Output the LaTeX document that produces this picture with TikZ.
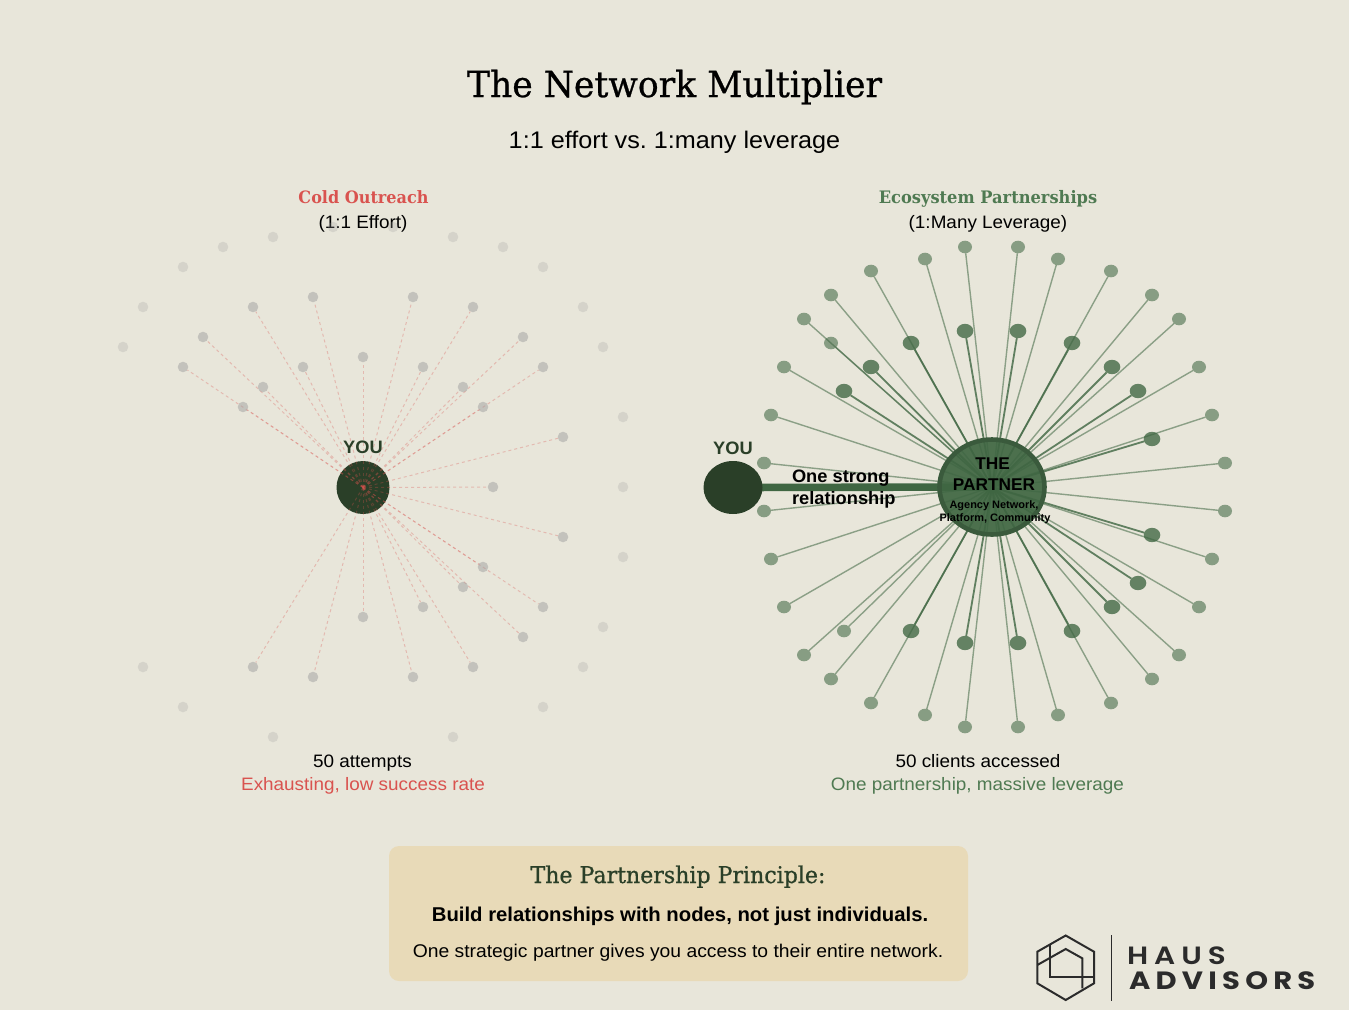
\documentclass[tikz,border=0pt]{standalone}
\usepackage{fontspec}
\usetikzlibrary{shapes.geometric}
\setmainfont{Liberation Sans}
\newfontfamily\inter[FakeStretch=1.05]{Liberation Sans}
\newfontfamily\interb[FakeStretch=1.015]{Liberation Sans Bold}
\newfontfamily\merri[FakeStretch=0.96,FakeBold=0.7]{DejaVu Serif}
\newfontfamily\merrib[FakeStretch=0.945]{DejaVu Serif Bold}
\newfontfamily\logoA[FakeStretch=1.18,LetterSpace=24]{Poppins SemiBold}
\newfontfamily\logoB[FakeStretch=1.16,LetterSpace=21]{Poppins Bold}
\definecolor{bgc}{HTML}{E8E6DA}
\definecolor{boxc}{HTML}{E8DAB8}
\definecolor{dgreen}{HTML}{2A3F28}
\definecolor{mgreen}{HTML}{3F6642}
\definecolor{ring}{HTML}{3A5A3C}
\definecolor{tgreen}{HTML}{4F7A52}
\definecolor{redc}{HTML}{D9534F}
\definecolor{greyn}{HTML}{A0A0A0}
\definecolor{logoc}{HTML}{2B2B2B}
\pgfdeclarelayer{under}
\pgfsetlayers{under,main}
\tikzset{
  txt/.style={inner sep=0,outer sep=0,anchor=base,text=black},
  coldfar/.style={circle,inner sep=0,outer sep=0,minimum size=10.6pt,fill=greyn,fill opacity=.26},
  coldnear/.style={circle,inner sep=0,outer sep=0,minimum size=10.6pt,fill=greyn,fill opacity=.5},
  coldline/.style={draw=redc,line width=1pt,dash pattern=on 3pt off 3pt,draw opacity=.3},
  lightn/.style={ellipse,inner sep=0,outer sep=0,minimum width=14pt,minimum height=12.6pt,fill=mgreen,fill opacity=.57},
  darkn/.style={ellipse,inner sep=0,outer sep=0,minimum width=16.6pt,minimum height=14.4pt,fill=mgreen,fill opacity=.78},
  lightl/.style={draw=mgreen,line width=1.4pt,draw opacity=.55},
  darkl/.style={draw=mgreen,line width=1.8pt,draw opacity=.8},
  logol/.style={draw=logoc,line width=2pt,line join=miter}
}
\begin{document}
\frenchspacing
\begin{tikzpicture}[x=1pt,y=-1pt]
\useasboundingbox (0,0) rectangle (1349,1010);
\begin{pgfonlayer}{under}
  \fill[bgc] (0,0) rectangle (1349,1010);
  \node[circle,inner sep=0,outer sep=0,minimum size=53pt,fill=dgreen] (youL) at (363,487.5) {};
\end{pgfonlayer}

% titles
\node[txt] (title) at (674.5,97) {\merri\fontsize{36}{36}\selectfont The Network Multiplier};
\node[txt] (sub) at (674.5,148) {\inter\fontsize{24}{24}\selectfont 1:1 effort vs. 1:many leverage};
\node[txt,text=redc] (coldT) at (363.5,203) {\merrib\fontsize{17}{18}\selectfont Cold Outreach};
\node[txt] (coldS) at (363,228) {\inter\fontsize{18}{18}\selectfont (1:1 Effort)};
\node[txt,text=tgreen] (ecoT) at (988,203) {\merrib\fontsize{17.2}{18}\selectfont Ecosystem Partnerships};
\node[txt] (ecoS) at (988,228) {\inter\fontsize{18}{18}\selectfont (1:Many Leverage)};
\node[txt] (coldA) at (362.5,767) {\inter\fontsize{18}{18}\selectfont 50 attempts};
\node[txt,text=redc] (coldB) at (363,790) {\inter\fontsize{18}{18}\selectfont Exhausting, low success rate};
\node[txt] (ecoA) at (978,767) {\inter\fontsize{18}{18}\selectfont 50 clients accessed};
\node[txt,text=tgreen] (ecoB) at (977.5,790) {\inter\fontsize{18}{18}\selectfont One partnership, massive leverage};

% left network
\node[txt,text=dgreen] (youLt) at (363,453) {\interb\fontsize{18}{18}\selectfont YOU};
\foreach \n/\x/\y in {1/183/267,2/223/247,3/273/237,4/333/227,5/393/227,6/453/237,7/503/247,8/543/267,9/583/307,10/143/307,11/123/347,12/603/347,13/623/417,14/623/487,15/623/557,16/603/627,17/583/667,18/543/707,19/453/737,20/273/737,21/183/707,22/143/667}
  \node[coldfar] (f\n) at (\x,\y) {};
\foreach \n/\x/\y in {1/243/407,2/183/367,3/203/337,4/263/387,5/253/307,6/303/367,7/313/297,8/363/357,9/413/297,10/423/367,11/473/307,12/463/387,13/523/337,14/483/407,15/543/367,16/563/437,17/493/487,18/563/537,19/483/567,20/543/607,21/463/587,22/523/637,23/423/607,24/473/667,25/413/677,26/363/617,27/313/677,28/253/667}{
  \node[coldnear] (n\n) at (\x,\y) {};
  \begin{pgfonlayer}{under}
    \draw[coldline] (youL.center) -- (n\n);
  \end{pgfonlayer}
}

% right network
\node[ellipse,inner sep=0,outer sep=0,minimum width=105pt,minimum height=95pt,fill=mgreen,fill opacity=.92,draw=ring,line width=4.6pt] (partner) at (992,487) {};
\foreach \n/\x/\y in {1/965/247,2/1018/247,3/925/259,4/1058/259,5/871/271,6/1111/271,7/831/295,8/1152/295,9/804/319,10/1179/319,11/831/343,12/784/367,13/1199/367,14/771/415,15/1212/415,16/764/463,17/1225/463,18/764/511,19/1225/511,20/771/559,21/1212/559,22/784/607,23/1199/607,24/844/631,25/804/655,26/1179/655,27/831/679,28/1152/679,29/871/703,30/1111/703,31/925/715,32/1058/715,33/965/727,34/1018/727}{
  \node[lightn] (l\n) at (\x,\y) {};
  \begin{pgfonlayer}{under}
    \draw[lightl] (partner.center) -- (l\n);
  \end{pgfonlayer}
}
\foreach \n/\x/\y in {1/911/343,2/965/331,3/1018/331,4/1072/343,5/871/367,6/1112/367,7/844/391,8/1138/391,9/1152/439,10/1152/535,11/1138/583,12/1112/607,13/911/631,14/965/643,15/1018/643,16/1072/631}{
  \node[darkn] (d\n) at (\x,\y) {};
  \begin{pgfonlayer}{under}
    \draw[darkl] (partner.center) -- (d\n);
  \end{pgfonlayer}
}
\node[ellipse,inner sep=0,outer sep=0,minimum width=59pt,minimum height=53pt,fill=dgreen] (youR) at (733,487.5) {};
\begin{pgfonlayer}{under}
  \draw[draw=mgreen,line width=7.6pt] (youR.center) -- (partner.center);
\end{pgfonlayer}
\node[txt,text=dgreen] (youRt) at (733,454) {\interb\fontsize{18}{18}\selectfont YOU};
\node[txt,anchor=base west] (rel1) at (792,482) {\interb\fontsize{18}{18}\selectfont One strong};
\node[txt,anchor=base west] (rel2) at (792,504) {\interb\fontsize{18}{18}\selectfont relationship};
\node[txt] (p1) at (992.5,469) {\interb\fontsize{17}{17}\selectfont THE};
\node[txt] (p2) at (994,490) {\interb\fontsize{17}{17}\selectfont PARTNER};
\node[txt] (p3) at (994,508.5) {\interb\fontsize{10.8}{10.8}\selectfont Agency Network,};
\node[txt] (p4) at (995,521) {\interb\fontsize{10.8}{10.8}\selectfont Platform, Community};

% principle box
\draw[fill=boxc,draw=none,rounded corners=10pt] (389,846) rectangle (968,981);
\node[txt,text=dgreen] (b1) at (678,883) {\merri\fontsize{23}{24}\selectfont The Partnership Principle:};
\node[txt] (b2) at (680,921) {\interb\fontsize{20}{20}\selectfont Build relationships with nodes, not just individuals.};
\node[txt] (b3) at (678,957) {\inter\fontsize{18.4}{18}\selectfont One strategic partner gives you access to their entire network.};

% logo
\draw[logol] (1065.7,935.5) -- (1094,951.7) -- (1094,983.3) -- (1065.7,1000) -- (1037.3,983.3) -- (1037.3,951.7) -- cycle;
\draw[logol] (1037.3,965) -- (1065.7,949) -- (1082.3,958.3) -- (1082.3,988.3);
\draw[logol] (1050,944) -- (1050,977.3) -- (1094,977.3);
\draw[draw=logoc,line width=1.3pt] (1111.3,935) -- (1111.3,1000.7);
\node[txt,text=logoc,anchor=base west] (haus) at (1127,964.3) {\logoA\fontsize{25}{25}\selectfont HAUS};
\node[txt,text=logoc,anchor=base west] (adv) at (1129,989.3) {\logoB\fontsize{25}{25}\selectfont ADVISORS};
\end{tikzpicture}
\end{document}
